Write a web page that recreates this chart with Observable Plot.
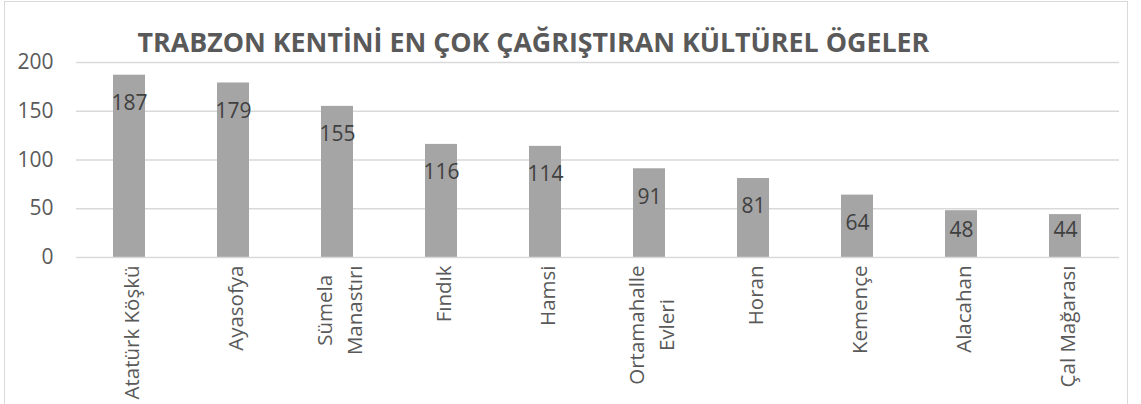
<!DOCTYPE html>
<html>
<head>
<meta charset="utf-8">
<script src="https://cdn.jsdelivr.net/npm/d3@7"></script>
<script src="https://cdn.jsdelivr.net/npm/@observablehq/plot@0.6"></script>
<style>
  html, body { margin: 0; padding: 0; background: #fff; }
  #wrap { position: relative; width: 1141px; height: 404px; overflow: hidden; }
  #frame { position: absolute; left: 4px; top: 1px; width: 1124px; height: 420px; border: 1px solid #d9d9d9; box-sizing: border-box; pointer-events: none; }
  svg { display: block; }
</style>
</head>
<body>
<div id="wrap"><div id="frame"></div></div>
<script>
const title = "TRABZON KENTİNİ EN ÇOK ÇAĞRIŞTIRAN KÜLTÜREL ÖGELER";
const categories = ["Atatürk Köşkü", "Ayasofya", "Sümela\nManastırı", "Fındık", "Hamsi", "Ortamahalle\nEvleri", "Horan", "Kemençe", "Alacahan", "Çal Mağarası"];
const values = [187, 179, 155, 116, 114, 91, 81, 64, 48, 44];
const yTicks = [0, 50, 100, 150, 200];

const data = categories.map((c, i) => ({cat: c, value: values[i]}));
const font = "'Open Sans', sans-serif";
const labelSize = 20.5;
// labels of short bars are held at a minimum height (like Excel's inside-end labels)
const labelFloor = 57;

// measure text so multi-line category labels can be centre-aligned like Excel
const ctx = document.createElement("canvas").getContext("2d");
ctx.font = `${labelSize}px 'Open Sans'`;
const textWidth = s => ctx.measureText(s).width;

const labelStyle = {frameAnchor: "bottom", rotate: -90, lineAnchor: "middle", lineHeight: 1.45, fontSize: labelSize, fill: "#595959"};
const singleLine = categories.filter(c => !c.includes("\n"));
const multiLine = categories.filter(c => c.includes("\n"));
const multiMarks = multiLine.map(c => {
  const maxW = d3.max(c.split("\n"), textWidth);
  return Plot.text([c], {x: d => d, text: d => d, textAnchor: "middle", dy: 8 + maxW / 2, ...labelStyle});
});

const chart = Plot.plot({
  width: 1141,
  height: 404,
  marginLeft: 76,
  marginRight: 22,
  marginTop: 62,
  marginBottom: 147,
  style: {fontFamily: font, background: "transparent"},
  x: {domain: categories, paddingInner: 0.69, paddingOuter: 0.345, axis: null},
  y: {domain: [0, 200], axis: null},
  marks: [
    Plot.ruleY(yTicks.filter(d => d > 0), {stroke: "#d9d9d9", strokeWidth: 1.3}),
    Plot.barY(data, {x: "cat", y: "value", fill: "#a5a5a5"}),
    Plot.ruleY([0], {stroke: "#d9d9d9", strokeWidth: 1.5}),
    Plot.text(yTicks, {y: d => d, frameAnchor: "left", text: d => String(d), textAnchor: "end", dx: -23, fontSize: 21, fill: "#595959"}),
    Plot.text(data, {x: "cat", y: d => Math.max(d.value, labelFloor), text: d => String(d.value), lineAnchor: "top", dy: 20, fontSize: 21, fill: "#404040"}),
    Plot.text(singleLine, {x: d => d, text: d => d, textAnchor: "end", dy: 8, ...labelStyle}),
    ...multiMarks,
    Plot.text([title], {frameAnchor: "top-left", text: d => d, textAnchor: "start", lineAnchor: "bottom", dx: 61, dy: -11, fontSize: 26.8, fontWeight: "bold", fill: "#595959"})
  ]
});
document.getElementById("wrap").prepend(chart);
</script>
</body>
</html>
